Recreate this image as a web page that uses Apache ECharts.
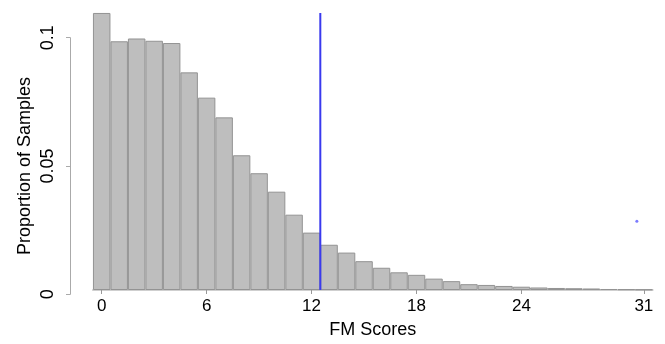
<!DOCTYPE html>
<html>
<head>
<meta charset="utf-8">
<style>html,body{margin:0;padding:0;background:#fff;}#c{width:665px;height:344px;}</style>
<script src="https://cdn.jsdelivr.net/npm/echarts@6/dist/echarts.min.js"></script>
</head>
<body>
<div id="c"></div>
<script>
const categories = ['0','1','2','3','4','5','6','7','8','9','10','11','12','13','14','15','16','17','18','19','20','21','22','23','24','25','26','27','28','29','30','31'];
const proportions = [0.1096,0.0984,0.0995,0.0986,0.0977,0.0861,0.0761,0.0683,0.0533,0.0462,0.0389,0.0298,0.0227,0.0179,0.0148,0.0114,0.0088,0.0070,0.0060,0.0045,0.0035,0.0023,0.0020,0.0016,0.0013,0.0010,0.0008,0.0007,0.0006,0.0004,0.0003,0.0002];
const xTickLabels = ['0','6','12','18','24','31'];
const yTicks = [0, 0.05, 0.1];
const thresholdLine = [[12.5, 0], [12.5, 0.1096]];
const outlierPoint = [[30.6, 0.0272]];

const font = 'Liberation Sans, Arial, sans-serif';
const chart = echarts.init(document.getElementById('c'), null, {renderer: 'canvas'});
const showTick = (idx, val) => xTickLabels.includes(String(val));
chart.setOption({
  animation: false,
  backgroundColor: '#ffffff',
  grid: [
    {left: 92.95, right: 12.4, top: 6.9, bottom: 49.7},
    {left: 70, width: 10, top: 37.7, bottom: 49.7}
  ],
  xAxis: [
    {
      type: 'category', gridIndex: 0, data: categories, boundaryGap: true,
      name: 'FM Scores', nameLocation: 'middle', nameGap: 31,
      nameTextStyle: {fontFamily: font, fontSize: 18, color: '#000'},
      axisLine: {show: true, lineStyle: {color: '#cfcfcf', width: 2}},
      axisTick: {show: true, alignWithLabel: true, interval: showTick, length: 4, lineStyle: {color: '#999'}},
      axisLabel: {interval: showTick, fontFamily: font, fontSize: 17, color: '#000', margin: 8},
      splitLine: {show: false}
    },
    {type: 'value', gridIndex: 0, min: -0.5, max: 31.5, show: false},
    {type: 'value', gridIndex: 1, show: false}
  ],
  yAxis: [
    {type: 'value', gridIndex: 0, min: 0, max: 0.112, show: false, splitLine: {show: false}},
    {
      type: 'value', gridIndex: 1, min: yTicks[0], max: yTicks[2], interval: yTicks[1],
      name: 'Proportion of Samples', nameLocation: 'middle', nameGap: 36, nameRotate: 90,
      nameTextStyle: {fontFamily: font, fontSize: 18, color: '#000'},
      axisLine: {show: true, lineStyle: {color: '#aaa', width: 1}},
      axisTick: {show: true, length: 4, lineStyle: {color: '#aaa'}},
      axisLabel: {rotate: 90, fontFamily: font, fontSize: 18, color: '#000', margin: 13,
        formatter: v => String(+v.toFixed(2))},
      splitLine: {show: false}
    }
  ],
  series: [
    {
      type: 'bar', xAxisIndex: 0, yAxisIndex: 0, data: proportions,
      barWidth: '100%', barCategoryGap: 0,
      itemStyle: {color: '#bebebe', borderColor: '#939393', borderWidth: 1}
    },
    {
      type: 'line', xAxisIndex: 1, yAxisIndex: 0, data: thresholdLine,
      symbol: 'none', lineStyle: {color: '#3a3aee', width: 2}
    },
    {
      type: 'scatter', xAxisIndex: 1, yAxisIndex: 0, data: outlierPoint,
      symbolSize: 3, itemStyle: {color: '#5a5aff'}
    }
  ]
});
</script>
</body>
</html>
